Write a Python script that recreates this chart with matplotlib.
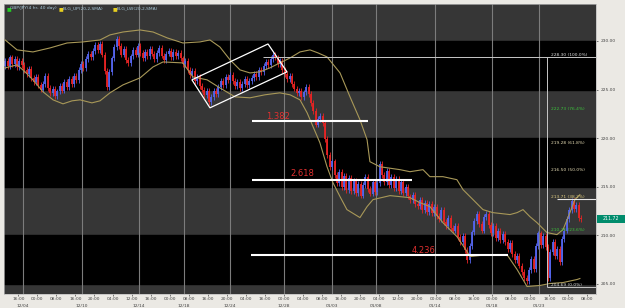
import matplotlib
matplotlib.use("Agg")
import matplotlib.pyplot as plt
import matplotlib.transforms as mtransforms
from matplotlib.patches import Rectangle, Polygon
import numpy as np

# GBP/JPY 4 hr bars, closes (open = previous close)
first_open = 227.4
closes = [
    227.9, 227.4, 228.3, 227.6, 228.1, 227.3, 227.9, 227.5,
    227.0, 226.6, 227.1, 226.2, 225.8, 226.3, 225.5, 225.0, 225.6,
    226.4, 225.2, 224.6, 225.1, 224.3, 224.8,
    225.4, 224.9, 225.8, 225.3, 226.1, 225.6,
    226.4, 226.0, 227.0, 227.6, 227.2, 228.1, 228.7, 228.3,
    229.0, 229.6, 229.1, 229.7,
    228.6, 226.9, 225.3,
    226.8, 228.2, 229.4, 230.2, 229.5,
    228.6, 229.2, 228.0, 227.7, 228.4,
    229.1, 228.6, 229.5, 228.8, 228.2, 228.9, 228.4, 229.2, 228.7, 228.1, 228.8,
    229.3, 228.5, 228.0, 228.7, 229.0, 228.3, 228.9, 228.4, 228.8, 228.2,
    227.6, 227.9, 227.0, 226.5, 226.9, 225.9, 226.3, 225.4,
    225.0, 224.4, 224.9, 223.7, 224.2,
    224.9, 224.5, 225.3, 225.9, 225.5, 226.3, 226.0, 226.5,
    225.9, 225.4, 225.8, 225.2, 225.6, 226.1, 225.5, 225.9, 226.2,
    226.6, 226.3, 227.0, 226.8, 227.4, 227.8, 227.5, 228.1, 228.6, 228.3,
    227.6, 227.9, 227.0, 226.6, 226.1, 226.4, 225.6,
    225.1, 224.6, 224.9, 224.2, 224.7, 225.3, 224.5, 223.6,
    222.8, 221.4, 222.0, 222.3, 221.6,
    219.9, 218.3, 217.0,
    217.6, 216.2, 215.4, 216.5, 215.0, 216.1, 214.7, 215.9, 214.6,
    215.6, 214.4, 215.3, 214.1, 215.2, 216.0, 214.8, 214.3, 215.5, 214.5, 215.4, 217.3,
    216.2, 215.5, 216.6, 215.2, 216.0, 214.9, 215.8, 214.6, 215.5, 214.4, 215.0, 214.0,
    213.6, 214.2, 213.2, 213.0, 213.6, 212.6, 213.3, 212.4, 213.2, 212.3, 212.9, 212.0,
    211.7, 212.6, 211.4, 211.0, 211.8, 210.8,
    210.5, 211.0, 209.8, 209.3, 209.9, 208.5, 207.5,
    208.9, 210.3, 211.5, 212.2, 211.2, 210.5, 211.9, 212.2,
    211.1, 210.2, 211.0, 209.7, 210.5,
    209.5, 210.1, 209.3, 208.6, 209.2, 208.1, 207.5, 207.9, 206.9, 206.2, 205.6, 205.3,
    206.4, 207.6, 206.5, 208.9, 210.2, 209.0, 209.9, 208.8,
    205.6,
    208.3, 209.3, 207.9, 208.6, 207.3,
    209.6, 210.5, 211.7, 212.6, 213.5,
    212.7, 213.1, 211.8, 211.72,
]

# bollinger bands (bar index, price)
up_x = [0, 5, 11.7, 18.9, 26.1, 32.8, 40, 44.2, 49.7, 56.9, 62.4, 68.4, 75, 82.2,
        86.4, 90.6, 94.9, 99.1, 103.3, 107.5, 111.7, 115.9, 120.2, 124.4, 128.6,
        132, 135.8, 141.3, 145.5, 149.7, 152.7, 153.9, 158.1, 166.6, 170.8, 176.3,
        179.2, 184.7, 190.6, 193.2, 197.4, 201.6, 205.8, 213, 216, 218.5, 221.4,
        224.4, 228.6, 232.8, 235.4, 238.3, 240.4, 242.5]
up_y = [230.10, 229.08, 228.87, 229.28, 229.79, 229.90, 230.10, 230.62, 230.92,
        231.13, 230.92, 230.31, 229.79, 229.90, 230.10, 229.38, 228.05, 227.02,
        226.71, 226.82, 227.23, 227.74, 228.25, 228.87, 229.08, 228.77, 228.36,
        226.71, 224.25, 221.89, 219.84, 217.58, 217.06, 216.76, 216.55, 216.76,
        216.04, 216.04, 215.73, 214.70, 213.68, 212.65, 212.34, 212.14, 212.34,
        212.65, 211.93, 211.31, 210.29, 210.08, 210.60, 212.34, 213.68, 214.19]
lw_x = [0, 5, 8.4, 11.7, 16, 20.2, 24.4, 28.2, 31.6, 36.6, 40, 44.2, 49.7, 56.9,
        62.4, 66.6, 75, 79.2, 85.2, 90.6, 97, 103.3, 109.6, 115.9, 120.2, 124.4,
        127.4, 132.8, 135.8, 138.3, 141.3, 144.2, 149.7, 152.7, 155.2, 162.4,
        170.8, 175, 179.2, 184.7, 190.6, 194.9, 196.1, 200.3, 207.5, 211.7, 216,
        220.2, 225.7, 229.9, 235.4, 241.3, 242.5]
lw_y = [227.23, 227.54, 226.82, 226.00, 224.76, 223.94, 223.53, 223.84, 223.94,
        223.63, 223.84, 224.66, 225.48, 226.20, 227.33, 227.84, 227.74, 226.30,
        226.00, 225.17, 224.25, 224.15, 224.46, 224.66, 224.46, 223.94, 222.61,
        219.53, 217.06, 215.42, 213.98, 212.65, 211.83, 212.96, 213.68, 214.09,
        213.88, 213.37, 212.96, 211.31, 209.88, 208.34, 207.82, 207.93, 208.03,
        208.03, 206.49, 204.74, 204.85, 205.05, 205.15, 205.46, 205.56]

# fibonacci retracement
fib_levels = [228.30, 222.73, 219.28, 216.50, 213.71, 210.26, 204.69]
fib_pcts = ["100.0%", "76.4%", "61.8%", "50.0%", "38.2%", "23.6%", "0.0%"]
fib_colors = ["#dcdcdc", "#3cc43c", "#e6dcb4", "#e6dcb4", "#e0cc80", "#3cc43c", "#dcdcdc"]

# fibonacci extensions
ext_labels = ["1.382", "2.618", "4.236"]
ext_levels = [221.79, 215.73, 208.03]
ext_start = [104.1, 104.1, 103.7]
ext_end = [153.1, 171.7, 212.2]

channel_x = [78.8, 110.9, 118.9, 86.4]
channel_y = [226.0, 229.69, 226.82, 223.12]

time_labels = ["16:00", "00:00", "08:00", "16:00", "20:00", "04:00", "12:00", "16:00",
               "00:00", "08:00", "16:00", "20:00", "04:00", "16:00", "00:00", "04:00",
               "08:00", "16:00", "20:00", "04:00", "12:00", "20:00", "00:00", "08:00",
               "16:00", "00:00", "08:00", "00:00", "16:00", "00:00", "08:00"]
day_labels = ["12/04", "12/10", "12/14", "12/18", "12/24", "12/28", "01/03", "01/08",
              "01/14", "01/18", "01/23"]
day_bars = [7.5, 32.4, 56.5, 75.5, 94.9, 117.6, 137.9, 156.5, 181.4, 205.4, 225.2]
price_ticks = [205, 210, 215, 220, 225, 230]
last_price = 211.72

fig = plt.figure(figsize=(6.25, 3.08), dpi=100, facecolor="#ebe9e4")
ax = fig.add_axes([4 / 625, 1 - 294 / 308, 592 / 625, 290 / 308])
ax.set_facecolor("#363636")
ax.set_xlim(-0.5, 249.3)
ax.set_ylim(203.97, 233.8)
for lo in (205, 215, 225):
    ax.axhspan(lo, lo + 5, color="black", zorder=0)
ax.vlines(day_bars, 203.97, 233.8, color="#7c7c7c", lw=0.8, zorder=0.5)

# candles: body from open to close, thin wick a little beyond
wick = 0.3
c = np.array(closes)
o = np.r_[first_open, c[:-1]]
x = np.arange(len(c))
lo_b = np.minimum(o, c)
hi_b = np.maximum(o, c)
up = c >= o
for m, col in ((up, "#5565ee"), (~up, "#e82424")):
    ax.vlines(x[m], lo_b[m] - wick, hi_b[m] + wick, color=col, lw=0.6, zorder=2)
    ax.vlines(x[m], lo_b[m], hi_b[m], color=col, lw=1.3, zorder=2)

ax.plot(up_x, up_y, color="#a89858", lw=0.8, zorder=3)
ax.plot(lw_x, lw_y, color="#a89858", lw=0.8, zorder=3)

# channel
ax.add_patch(Polygon(list(zip(channel_x, channel_y)), closed=True, fill=False,
                     ec="white", lw=0.9, zorder=4))

# extension lines
lab_pos = [(115.1, 222.2), (125.2, 216.35), (176.7, 208.44)]
for lab, lvl, s, e, (tx, ty) in zip(ext_labels, ext_levels, ext_start, ext_end, lab_pos):
    ax.hlines(lvl, s, e, color="white", lw=1.5, zorder=4)
    ax.text(tx, ty, lab, color="#e03030", fontsize=6, ha="center", va="center", zorder=5)

# fib retracement
fx = 228.6
ax.hlines(fib_levels[0], 108.8, 249.3, color="#c8c8c8", lw=0.7, zorder=4)
ax.vlines(fx, fib_levels[-1], fib_levels[0], color="#c8c8c8", lw=0.7, zorder=4)
ax.hlines(fib_levels[-1], fx, 249.3, color="#c8c8c8", lw=0.7, zorder=4)
ax.hlines(fib_levels[4] + 0.07, 232.8, 249.3, color="#e8e8e8", lw=0.8, zorder=4)
for lvl, pct, col in zip(fib_levels, fib_pcts, fib_colors):
    ax.text(230.3, lvl + 0.25, f"{lvl:.2f} ({pct})", color=col, fontsize=3.2,
            ha="left", va="center", zorder=5)

# legend
ly = 0.992
items = [(0.005, "#22cc22", "GBP/JPY(4 hr, 40 day)"),
         (0.093, "#e8d020", "BLG_UP(20,2,SMA)"),
         (0.184, "#e8d020", "BLG_LW(20,2,SMA)")]
for lx, col, txt in items:
    ax.text(lx, ly, "\u25a0", color=col, fontsize=3.6, transform=ax.transAxes,
            ha="left", va="top")
    ax.text(lx + 0.0055, ly, txt, color="#a8c8d8", fontsize=3.2,
            transform=ax.transAxes, ha="left", va="top")

# axes
for sp in ax.spines.values():
    sp.set_color("#b8b8b8")
    sp.set_linewidth(0.5)
ax.set_xticks([5.6 + 8 * k for k in range(len(time_labels))])
ax.set_xticklabels(time_labels)
ax.tick_params(axis="x", length=1.5, width=0.5, pad=0.8, labelsize=3.2,
               colors="#444444")
ax.yaxis.tick_right()
ax.set_yticks(price_ticks)
ax.set_yticklabels([f"{p:.2f}" for p in price_ticks])
ax.tick_params(axis="y", length=1.5, width=0.5, pad=2, labelsize=3.2,
               colors="#444444")
for db, dl in zip(day_bars, day_labels):
    ax.text(db, -0.041, dl, transform=ax.get_xaxis_transform(), fontsize=3.2,
            color="#444444", ha="center", va="center", clip_on=False)

# last price tag
tr = mtransforms.blended_transform_factory(ax.transAxes, ax.transData)
ax.add_patch(Rectangle((1.002, last_price - 0.4), 0.05, 0.8, transform=tr,
                       fc="#008c6c", ec="none", clip_on=False, zorder=6))
ax.text(1.012, last_price, f"{last_price:.2f}", transform=tr, fontsize=3.3,
        color="white", ha="left", va="center", clip_on=False, zorder=7)

fig.savefig("out.png", dpi=100, facecolor=fig.get_facecolor())
